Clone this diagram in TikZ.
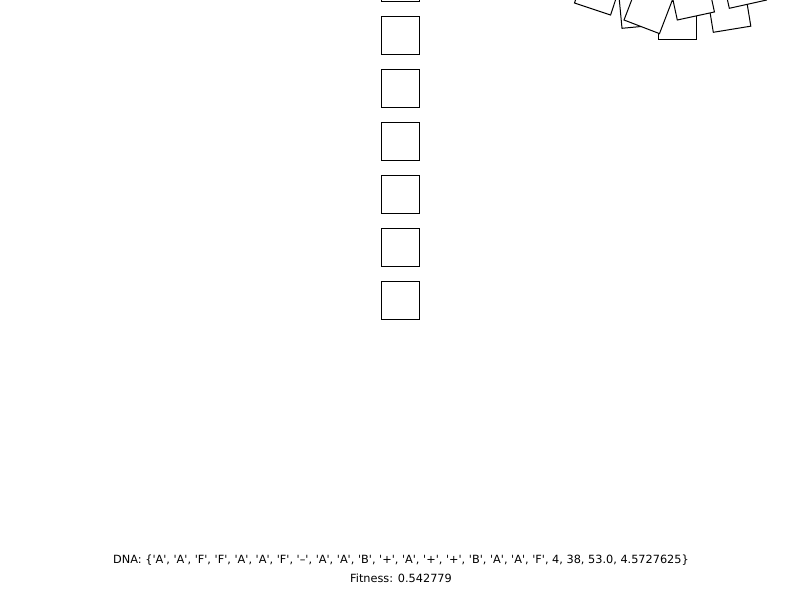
\documentclass[tikz,border=0pt]{standalone}
\usepackage{fontspec}
\newfontfamily\dnafont{DejaVu Sans}
\begin{document}
\begin{tikzpicture}[x=1pt,y=-1pt,
  sq/.style={draw=black,fill=white,line width=1pt,line join=miter},
  lbl/.style={inner sep=0pt,font=\dnafont\fontsize{11.3}{13}\selectfont}]
\useasboundingbox (0,0) rectangle (800,600);
\clip (0,0) rectangle (800,600);
% column of squares
\foreach \k in {-1,...,5}{
  \draw[sq] (381,{16+53*\k}) rectangle ++(38,38);
}
% rotated squares at top right: BL x, BL y, angle
\newcommand{\rsq}[3]{%
  \draw[sq] (#1,#2) -- ++({38*cos(#3)},{-38*sin(#3)})
    -- ++({-38*sin(#3)},{-38*cos(#3)})
    -- ++({-38*cos(#3)},{38*sin(#3)}) -- cycle;}
\rsq{574.5}{3}{-18.4}
\rsq{622}{28.3}{5.4}
\rsq{658.3}{39.3}{0}
\rsq{624}{20}{-21}
\rsq{713.3}{32.3}{9.3}
\rsq{677.3}{20}{12.2}
\rsq{729.3}{8.3}{12.5}
% texts
\node[lbl] (dna) at (401,560) {DNA: \{'A', 'A', 'F', 'F', 'A', 'A', 'F', '–', 'A', 'A', 'B', '+', 'A', '+', '+', 'B', 'A', 'A', 'F', 4, 38, 53.0, 4.5727625\}};
\node[lbl] (fit) at (401,578) {Fitness: 0.542779};
\end{tikzpicture}
\end{document}
